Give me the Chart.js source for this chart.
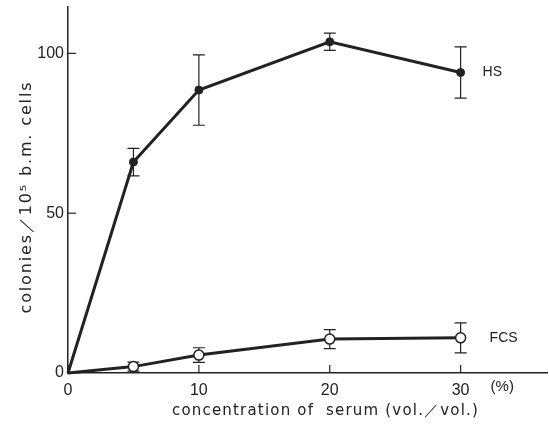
<!DOCTYPE html>
<html>
<head>
<meta charset="utf-8">
<script src="https://cdn.jsdelivr.net/npm/chart.js@4.4.0/dist/chart.umd.min.js"></script>
<style>
html,body{margin:0;padding:0;background:#fff;}
canvas{display:block;}
</style>
</head>
<body>
<canvas id="c" width="549" height="428"></canvas>
<script>
const concentrations = [0, 5, 10, 20, 30];
const hsValues = [0, 66, 88.5, 103.6, 94];
const hsErrors = [0, 4.3, 11, 2.7, 8];
const fcsValues = [0, 2, 5.6, 10.6, 11];
const fcsErrors = [0, 1.4, 2.3, 3, 4.7];
const xTickValues = [0, 10, 20, 30];
const yTickValues = [0, 50, 100];
const seriesNames = ['HS', 'FCS'];
const xTitle = 'concentration of  serum (vol.\uFF0Fvol.)';
const yTitle = 'colonies\uFF0F10\u2075 b.m. cells';
const unitLabel = '(%)';

const ink = '#222';

function pts(vals){ return concentrations.map((c,i)=>({x:c, y:vals[i]})); }

function fitText(ctx, text, x, y, width){
  ctx.letterSpacing = '0px';
  const w = ctx.measureText(text).width;
  const sp = (width - w) / Math.max(1, text.length - 1);
  ctx.letterSpacing = sp.toFixed(2) + 'px';
  ctx.textAlign = 'left';
  ctx.fillText(text, x - width/2, y);
  ctx.letterSpacing = '0px';
}

const overlay = {
  id: 'overlay',
  beforeDatasetsDraw(chart){
    const ctx = chart.ctx, xs = chart.scales.x, ys = chart.scales.y;
    ctx.save();
    ctx.strokeStyle = ink;
    ctx.lineWidth = 1.2;
    xTickValues.forEach(v=>{
      const px = xs.getPixelForValue(v);
      ctx.beginPath(); ctx.moveTo(px, ys.bottom); ctx.lineTo(px, ys.bottom-8); ctx.stroke();
    });
    yTickValues.forEach(v=>{
      const py = ys.getPixelForValue(v);
      ctx.beginPath(); ctx.moveTo(xs.left, py); ctx.lineTo(xs.left+8, py); ctx.stroke();
    });
    [[hsValues, hsErrors],[fcsValues, fcsErrors]].forEach(([vals, errs])=>{
      concentrations.forEach((c,i)=>{
        if(!errs[i]) return;
        const px = xs.getPixelForValue(c);
        const top = ys.getPixelForValue(vals[i]+errs[i]);
        const bot = ys.getPixelForValue(vals[i]-errs[i]);
        ctx.beginPath();
        ctx.moveTo(px, top); ctx.lineTo(px, bot);
        ctx.moveTo(px-6, top); ctx.lineTo(px+6, top);
        ctx.moveTo(px-6, bot); ctx.lineTo(px+6, bot);
        ctx.stroke();
      });
    });
    ctx.restore();
  },
  afterDraw(chart){
    const ctx = chart.ctx, xs = chart.scales.x, ys = chart.scales.y;
    ctx.save();
    ctx.fillStyle = ink;
    ctx.font = '14px "Liberation Sans", Arial, sans-serif';
    ctx.textBaseline = 'middle';
    ctx.textAlign = 'left';
    const last = concentrations.length-1;
    ctx.fillText(seriesNames[0], xs.getPixelForValue(concentrations[last])+22, ys.getPixelForValue(hsValues[last]));
    ctx.fillText(seriesNames[1], xs.getPixelForValue(concentrations[last])+29, ys.getPixelForValue(fcsValues[last]));
    ctx.font = '15px "Liberation Sans", Arial, sans-serif';
    ctx.fillText(unitLabel, xs.getPixelForValue(30)+30, ys.bottom+14);
    ctx.font = '15px "DejaVu Sans", sans-serif';
    fitText(ctx, xTitle, 325, 411, 306);
    ctx.save();
    ctx.translate(27, 198);
    ctx.rotate(-Math.PI/2);
    ctx.font = '16px "DejaVu Sans", sans-serif';
    fitText(ctx, yTitle, 0, 0, 231);
    ctx.restore();
    ctx.restore();
  }
};

new Chart(document.getElementById('c'), {
  type: 'line',
  data: {
    datasets: [
      {
        label: seriesNames[0],
        data: pts(hsValues),
        borderColor: ink,
        borderWidth: 3,
        pointRadius: [0,4,4,4,4],
        pointBackgroundColor: ink,
        pointBorderColor: ink,
        pointBorderWidth: 1,
        tension: 0,
        clip: false
      },
      {
        label: seriesNames[1],
        data: pts(fcsValues),
        borderColor: ink,
        borderWidth: 3,
        pointRadius: [0,5,5,5,5],
        pointBackgroundColor: '#fff',
        pointBorderColor: ink,
        pointBorderWidth: 1.5,
        tension: 0,
        clip: false
      }
    ]
  },
  options: {
    responsive: false,
    animation: false,
    devicePixelRatio: 1,
    layout: { autoPadding: false, padding: { top: 7, right: 2, left: 0, bottom: 0 } },
    plugins: { legend: { display: false }, tooltip: { enabled: false } },
    scales: {
      x: {
        type: 'linear', min: 0, max: 36.6,
        afterBuildTicks: s => { s.ticks = xTickValues.map(v=>({value:v})); },
        afterFit: s => { s.height = 55; s.paddingRight = 0; },
        grid: { display: false, drawTicks: false },
        border: { display: true, color: ink, width: 1.5 },
        ticks: { color: ink, padding: 8, maxRotation: 0, font: { family: '"Liberation Sans", Arial, sans-serif', size: 16 } }
      },
      y: {
        type: 'linear', min: 0, max: 114.5,
        afterBuildTicks: s => { s.ticks = yTickValues.map(v=>({value:v})); },
        afterFit: s => { s.width = 68; s.paddingTop = 0; },
        grid: { display: false, drawTicks: false },
        border: { display: true, color: ink, width: 1.5 },
        ticks: { color: ink, padding: 4, font: { family: '"Liberation Sans", Arial, sans-serif', size: 16 } }
      }
    }
  },
  plugins: [overlay]
});
</script>
</body>
</html>
